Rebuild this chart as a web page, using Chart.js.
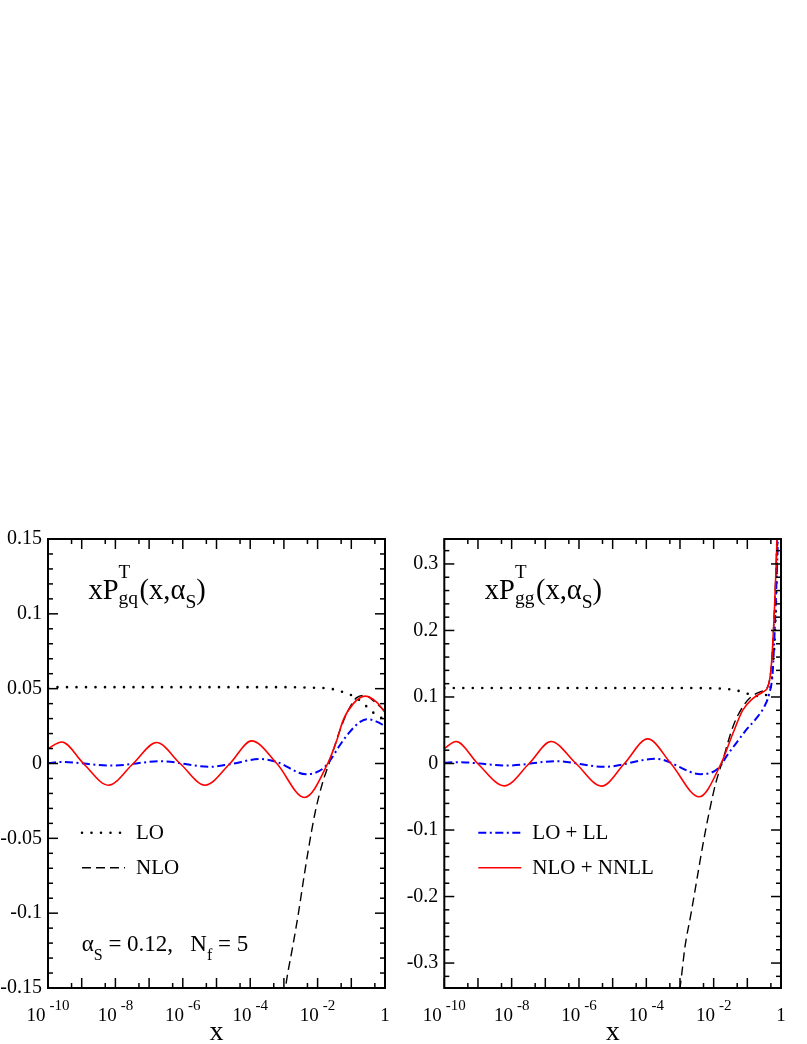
<!DOCTYPE html>
<html>
<head>
<meta charset="utf-8">
<script src="https://cdn.jsdelivr.net/npm/chart.js@4.4.1/dist/chart.umd.min.js"></script>
<style>
  body { margin: 0; background: #fff; }
  canvas { position: absolute; top: 0; }
</style>
</head>
<body>
<canvas id="gqChart" width="400" height="1044" style="left:0"></canvas>
<canvas id="ggChart" width="407" height="1044" style="left:400px"></canvas>
<script>
// x values are given as log10(x)

// --- left panel: x P_gq^T ---
const gqLoLogX   = [-10, -3, -2, -1.68, -1.43, -1.14, -0.89, -0.66, -0.45, -0.25, -0.1, 0];
const gqLoY      = [0.051, 0.051, 0.0505, 0.0502, 0.049, 0.0468, 0.0445, 0.0405, 0.036, 0.0323, 0.0305, 0.0298];
const gqNloLogX  = [-3.1, -2.92, -2.74, -2.57, -2.42, -2.26, -2.08, -1.86, -1.63, -1.34, -1.09, -0.84, -0.59, -0.3, 0];
const gqNloY     = [-0.175, -0.1448, -0.1225, -0.1002, -0.078, -0.0557, -0.0334, -0.0134, 0.002, 0.022, 0.0356, 0.044, 0.0455, 0.041, 0.035];
const gqLlLogX   = [-10, -9.6, -8.11, -6.66, -5.19, -4.6, -3.71, -3.21, -2.34, -1.84, -1.63, -1.34, -1.05, -0.74, -0.54, -0.25, 0];
const gqLlY      = [0.0003, 0.001, -0.0014, 0.0015, -0.0022, -0.0005, 0.003, 0.001, -0.0072, -0.0034, 0.002, 0.0122, 0.021, 0.0278, 0.0296, 0.028, 0.025];
const gqNnllLogX = [-10, -9.59, -8.95, -8.21, -7.47, -6.78, -6.08, -5.34, -4.6, -3.96, -3.21, -2.39, -1.68, -1.43, -1.24, -0.94, -0.59, -0.25, 0];
const gqNnllY    = [0.010, 0.0144, 0, -0.0145, 0, 0.014, 0, -0.0145, 0, 0.0151, 0, -0.0227, 0.001, 0.0156, 0.029, 0.040, 0.045, 0.041, 0.034];

// --- right panel: x P_gg^T ---
const ggLoLogX   = [-10, -3, -2, -1.43, -1.14, -0.84, -0.6, -0.4, -0.25, -0.15, -0.1, -0.07];
const ggLoY      = [0.1135, 0.1135, 0.113, 0.111, 0.1075, 0.1025, 0.101, 0.105, 0.14, 0.24, 0.38, 0.5];
const ggNloLogX  = [-3.1, -3.0, -2.85, -2.67, -2.5, -2.33, -2.14, -1.94, -1.73, -1.43, -1.14, -0.89, -0.6, -0.4, -0.3, -0.25, -0.2, -0.15, -0.12, -0.09];
const ggNloY     = [-0.36, -0.337, -0.275, -0.225, -0.175, -0.125, -0.075, -0.03, 0.005, 0.055, 0.085, 0.1, 0.108, 0.115, 0.14, 0.175, 0.225, 0.29, 0.335, 0.4];
const ggLlLogX   = [-10, -9.6, -8.11, -6.68, -5.25, -3.71, -2.38, -1.83, -1.63, -1.34, -1.04, -0.74, -0.5, -0.35, -0.25, -0.2, -0.15, -0.1, -0.07];
const ggLlY      = [0.001, 0.002, -0.003, 0.0035, -0.005, 0.007, -0.016, -0.006, 0.01, 0.03, 0.05, 0.0675, 0.085, 0.105, 0.135, 0.185, 0.25, 0.325, 0.4];
const ggNnllLogX = [-10, -9.65, -9.01, -8.22, -7.48, -6.83, -6.09, -5.33, -4.65, -3.96, -3.27, -2.43, -1.78, -1.43, -1.14, -0.84, -0.54, -0.39, -0.3, -0.25, -0.2, -0.15, -0.12, -0.09];
const ggNnllY    = [0.0225, 0.033, 0, -0.0336, 0, 0.033, 0, -0.034, 0, 0.037, 0, -0.050, 0, 0.045, 0.08, 0.0975, 0.1075, 0.115, 0.14, 0.175, 0.225, 0.29, 0.335, 0.4];

// axis ticks
const xMajorExps = [-10, -9, -8, -7, -6, -5, -4, -3, -2, -1, 0];
const xLabelExps = [-10, -8, -6, -4, -2, 0];

const serif = '"Liberation Serif", "Times New Roman", serif';

function pts(logx, ys) {
    return logx.map((e, i) => ({ x: Math.pow(10, e), y: ys[i] }));
}

// draws text pieces one after another, sub/superscripts shifted by dy
function richText(ctx, x, y, parts) {
    let held = 0;
    parts.forEach(p => {
        ctx.font = p.size + 'px ' + serif;
        ctx.fillText(p.t, x, y + (p.dy || 0));
        const w = ctx.measureText(p.t).width + (p.gap || 0);
        if (p.hold) {
            held = w;
        } else {
            x += Math.max(w, held);
            held = 0;
        }
    });
}

const framePlugin = {
    id: 'frame',
    afterDraw(chart, args, o) {
        const ctx = chart.ctx;
        const a = chart.chartArea;
        const xs = chart.scales.x, ys = chart.scales.y;
        ctx.save();
        ctx.strokeStyle = '#000';
        ctx.fillStyle = '#000';

        function seg(x1, y1, x2, y2) {
            ctx.beginPath(); ctx.moveTo(x1, y1); ctx.lineTo(x2, y2); ctx.stroke();
        }
        // inward tick marks on all four sides
        ctx.lineWidth = 1.5;
        xMajorExps.forEach(e => {
            const p = xs.getPixelForValue(Math.pow(10, e));
            seg(p, a.bottom, p, a.bottom - 10);
            seg(p, a.top, p, a.top + 10);
            if (e < 0) {
                const q = xs.getPixelForValue(5 * Math.pow(10, e));
                seg(q, a.bottom, q, a.bottom - 5);
                seg(q, a.top, q, a.top + 5);
            }
        });
        const n0 = Math.ceil(o.yMin / o.yMinor - 1e-6), n1 = Math.floor(o.yMax / o.yMinor + 1e-6);
        for (let n = n0; n <= n1; n++) {
            const v = n * o.yMinor;
            const r = v / o.yMajor;
            const len = Math.abs(r - Math.round(r)) < 1e-6 ? 10 : 5;
            const p = ys.getPixelForValue(v);
            seg(a.left, p, a.left + len, p);
            seg(a.right, p, a.right - len, p);
        }
        // frame
        ctx.lineWidth = 2;
        ctx.strokeRect(a.left, a.top, a.right - a.left, a.bottom - a.top);

        // x tick labels: 10^n
        ctx.textBaseline = 'alphabetic';
        ctx.textAlign = 'left';
        xLabelExps.forEach(e => {
            const p = xs.getPixelForValue(Math.pow(10, e));
            if (e === 0) {
                ctx.font = '19px ' + serif;
                const w = ctx.measureText('1').width;
                ctx.fillText('1', p - w / 2, 1021);
                return;
            }
            ctx.font = '19px ' + serif;
            const w1 = ctx.measureText('10').width;
            ctx.font = '15px ' + serif;
            const w2 = ctx.measureText(String(e)).width;
            const x0 = p - (w1 + 4 + w2) / 2;
            ctx.font = '19px ' + serif;
            ctx.fillText('10', x0, 1021);
            ctx.font = '15px ' + serif;
            ctx.fillText(String(e), x0 + w1 + 4, 1010);
        });
        // x axis title
        ctx.font = '28px ' + serif;
        ctx.textAlign = 'center';
        ctx.fillText('x', (a.left + a.right) / 2, 1040);
        ctx.textAlign = 'left';

        // panel title
        richText(ctx, a.left + 40.5, 599, o.title);

        // legend
        o.legend.forEach((idx, k) => {
            const ds = chart.data.datasets[idx];
            const y = 832.7 + k * 35;
            ctx.save();
            ctx.strokeStyle = ds.borderColor;
            ctx.lineWidth = ds.borderWidth;
            ctx.lineCap = ds.borderCapStyle || 'butt';
            ctx.setLineDash(ds.borderDash || []);
            seg(a.left + 34, y, a.left + 77, y);
            ctx.restore();
            ctx.font = '21px ' + serif;
            ctx.fillText(ds.label, a.left + 88, y + 6.5);
        });

        if (o.note) richText(ctx, a.left + 33.7, 951, o.note);
        ctx.restore();
    }
};

function makeChart(id, series, opt) {
    new Chart(document.getElementById(id), {
        type: 'line',
        data: {
            datasets: [{
                label: 'LO',
                data: pts(series[0][0], series[0][1]),
                borderColor: '#000',
                borderWidth: 2.6,
                borderDash: [0, 9.5],
                borderCapStyle: 'round',
                order: 3
            }, {
                label: 'NLO',
                data: pts(series[1][0], series[1][1]),
                borderColor: '#000',
                borderWidth: 1.4,
                borderDash: [9, 5],
                order: 2
            }, {
                label: 'LO + LL',
                data: pts(series[2][0], series[2][1]),
                borderColor: '#0000ff',
                borderWidth: 2,
                borderDash: [8, 3.5, 2, 3.5],
                order: 1
            }, {
                label: 'NLO + NNLL',
                data: pts(series[3][0], series[3][1]),
                borderColor: '#ff0000',
                borderWidth: 1.6,
                order: 0
            }]
        },
        options: {
            responsive: false,
            animation: false,
            devicePixelRatio: 1,
            elements: {
                point: { radius: 0 },
                line: { cubicInterpolationMode: 'monotone', fill: false }
            },
            layout: { padding: { left: 0, right: opt.padRight, top: 539, bottom: 56 } },
            scales: {
                x: {
                    type: 'logarithmic',
                    min: 1e-10,
                    max: 1,
                    display: false
                },
                y: {
                    min: -opt.yMax,
                    max: opt.yMax,
                    grid: { display: false, drawTicks: false },
                    border: { display: false },
                    afterFit: s => { s.width = opt.yWidth; },
                    ticks: {
                        stepSize: opt.yMajor,
                        includeBounds: false,
                        autoSkip: false,
                        padding: 6,
                        color: '#000',
                        font: { family: serif, size: 20 },
                        callback: v => String(+v.toFixed(2))
                    }
                }
            },
            plugins: {
                legend: { display: false },
                tooltip: { enabled: false },
                frame: {
                    yMin: -opt.yMax, yMax: opt.yMax,
                    yMajor: opt.yMajor, yMinor: opt.yMinor,
                    title: opt.title,
                    legend: opt.legend,
                    note: opt.note
                }
            }
        },
        plugins: [framePlugin]
    });
}

makeChart('gqChart', [
    [gqLoLogX, gqLoY], [gqNloLogX, gqNloY], [gqLlLogX, gqLlY], [gqNnllLogX, gqNnllY]
], {
    padRight: 15, yWidth: 48, yMax: 0.15, yMajor: 0.05, yMinor: 0.01,
    title: [
        { t: 'xP', size: 28.5 }, { t: 'T', size: 19, dy: -21, hold: true }, { t: 'gq', size: 19.5, dy: 4.5, gap: 1.5 },
        { t: '(x,α', size: 28.5 }, { t: 'S', size: 19.5, dy: 8.5 }, { t: ')', size: 28.5 }
    ],
    legend: [0, 1],
    note: [
        { t: 'α', size: 23 }, { t: 'S', size: 16, dy: 9 }, { t: ' = 0.12,   N', size: 23 },
        { t: 'f', size: 16, dy: 9 }, { t: ' = 5', size: 23 }
    ]
});

makeChart('ggChart', [
    [ggLoLogX, ggLoY], [ggNloLogX, ggNloY], [ggLlLogX, ggLlY], [ggNnllLogX, ggNnllY]
], {
    padRight: 26, yWidth: 44.3, yMax: 0.3375, yMajor: 0.1, yMinor: 0.02,
    title: [
        { t: 'xP', size: 28.5 }, { t: 'T', size: 19, dy: -21, hold: true }, { t: 'gg', size: 19.5, dy: 4.5, gap: 1.5 },
        { t: '(x,α', size: 28.5 }, { t: 'S', size: 19.5, dy: 8.5 }, { t: ')', size: 28.5 }
    ],
    legend: [2, 3]
});
</script>
</body>
</html>
